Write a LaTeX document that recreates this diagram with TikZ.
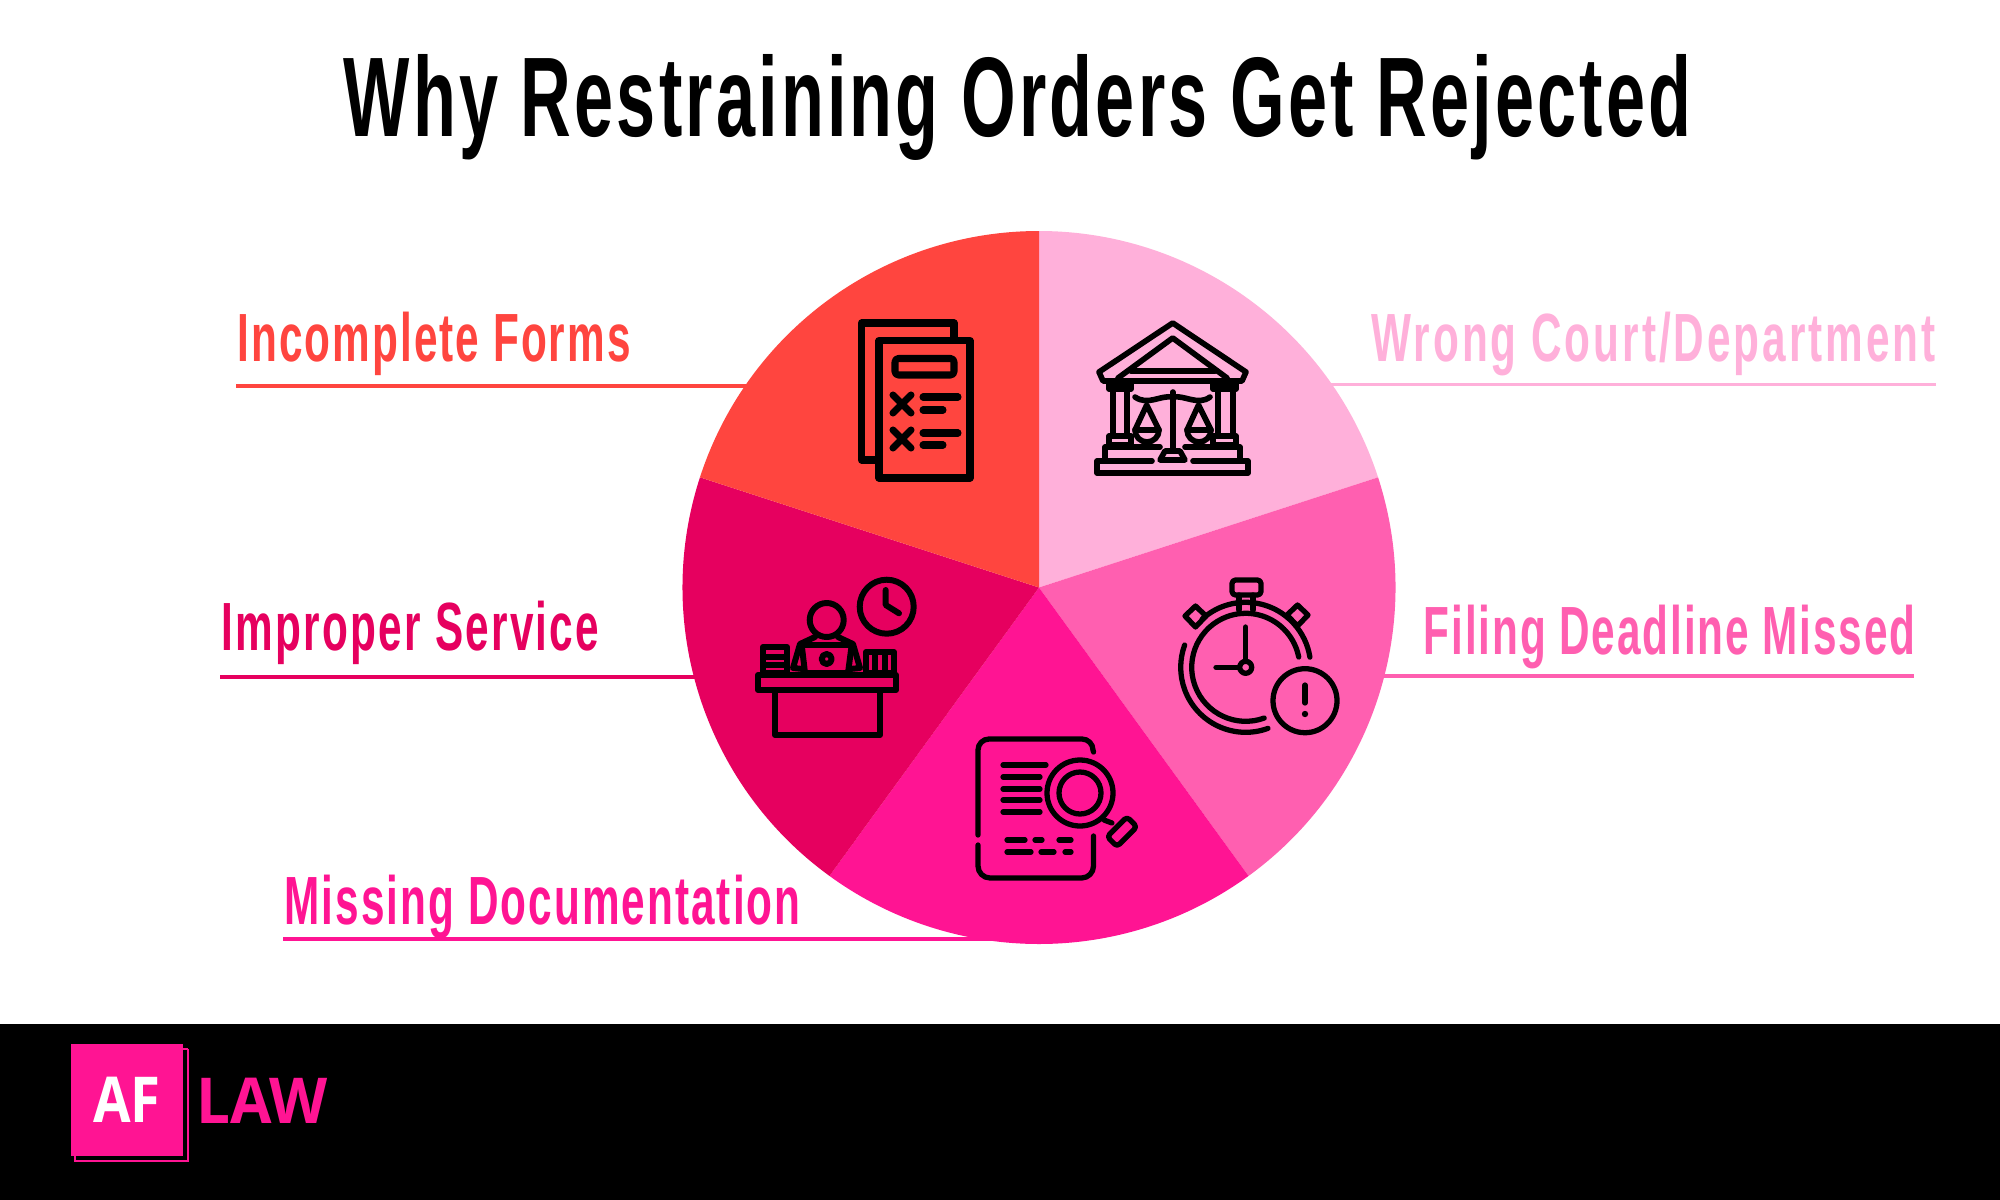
\documentclass[tikz,border=0pt]{standalone}
\usepackage{fontspec}
\usepackage{tikz}
\usetikzlibrary{positioning, arrows.meta}
\newfontfamily\tallfont[FakeStretch=0.62]{Liberation Sans}
\newfontfamily\logofont[FakeStretch=0.86]{Open Sans}
\newfontfamily\lawfont[FakeStretch=0.95]{Open Sans}
\newcommand{\spread}[1]{\addfontfeature{LetterSpace=#1}}
\definecolor{formred}{HTML}{FF453F}
\definecolor{courtpink}{HTML}{FFB0DA}
\definecolor{latepink}{HTML}{FF5FB0}
\definecolor{docpink}{HTML}{FF1493}
\definecolor{servered}{HTML}{E6005F}
\tikzset{%
	tag/.style = {anchor = base west, inner sep = 0pt, text = #1, font = \tallfont\bfseries\fontsize{19.4pt}{22pt}\selectfont},
	rule/.style = {draw = #1, line width = 1pt},
	ink/.style = {draw = black, line width = 1.7pt, line cap = round, line join = round},
	thin ink/.style = {draw = black, line width = 1.5pt, line cap = round, line join = round}
}

\begin{document}
\begin{tikzpicture}[x=0.01cm, y=-0.01cm]
			\useasboundingbox [fill = white] (0,0) rectangle (2000,1200);
			\fill [black] (0,1024) rectangle (2000,1200);
			\node [anchor = base west, inner sep = 0pt, font = \tallfont\bfseries\fontsize{32.2pt}{36pt}\selectfont] (title) at (343,136) {\spread{2.8}Why Restraining Orders Get Rejected};

			\coordinate (center) at (1039,587.5);
			\coordinate (formsL) at (236,386);
			\coordinate (formsR) at (760,386);
			\coordinate (courtL) at (1320,384.5);
			\coordinate (courtR) at (1936,384.5);
			\coordinate (serviceL) at (220,677);
			\coordinate (serviceR) at (710,677);
			\coordinate (lateL) at (1375,676);
			\coordinate (lateR) at (1914,676);
			\coordinate (docsL) at (283,939);
			\coordinate (docsR) at (1010,939);
			\draw [rule = formred] (formsL) -- (formsR);
			\draw [rule = courtpink] (courtL) -- (courtR);
			\draw [rule = servered] (serviceL) -- (serviceR);
			\draw [rule = latepink] (lateL) -- (lateR);
			\draw [rule = docpink] (docsL) -- (docsR);

			\foreach \colr/\from in {courtpink/-90, latepink/-18, docpink/54, servered/126, formred/198}
				\fill [\colr] (center) -- +(\from:356.5) arc [start angle = \from, delta angle = 72, radius = 356.5] -- cycle;

			\node [tag = formred] (forms) at (237,361) {\spread{3}Incomplete Forms};
			\node [tag = courtpink] (court) at (1371,361) {\spread{4.35}Wrong Court/Department};
			\node [tag = servered] (service) at (221,650) {\spread{3.35}Improper Service};
			\node [tag = latepink] (late) at (1423,654) {\spread{2.75}Filing Deadline Missed};
			\node [tag = docpink] (docs) at (284,924) {\spread{3}Missing Documentation};

			% forms
			\begin{scope}[ink, line width = 2pt]
				\draw (875,460) -- (861.5,460) -- (861.5,323) -- (954,323) -- (954,338);
				\draw (879,340.5) rectangle (970,478);
				\draw [rounded corners = 1pt] (895,358.5) rectangle (954,375);
				\foreach \rowy in {404,439} {
					\draw (893,\rowy-9) -- (911,\rowy+9);
					\draw (911,\rowy-9) -- (893,\rowy+9);
				}
				\draw (923,397) -- (958,397) (923,410) -- (943,410);
				\draw (923,433) -- (958,433) (923,445) -- (943,445);
			\end{scope}

			% court
			\begin{scope}[ink, line width = 1.6pt]
				\draw (1172.7,323) -- (1099,372) -- (1103,381) -- (1242,381) -- (1246,372) -- cycle;
				\draw (1118,378) -- (1172.7,338) -- (1227,378);
				\draw (1131,371) -- (1215,371);
				\draw (1109,384) rectangle (1131,389);
				\draw (1213,384) rectangle (1236,389);
				\draw (1113,389) -- (1113,435) (1127,389) -- (1127,435);
				\draw (1218,389) -- (1218,435) (1233,389) -- (1233,435);
				\draw (1109,436) rectangle (1131,445);
				\draw (1213,436) rectangle (1236,445);
				\draw (1105,459) -- (1105,447) -- (1160,447);
				\draw (1185,447) -- (1240,447) -- (1240,459);
				\draw (1152,461) -- (1097,461) -- (1097,473) -- (1248,473) -- (1248,461) -- (1193,461);
				\draw (1172.7,392) -- (1172.7,450);
				\draw (1160,460) -- (1165,451) -- (1180,451) -- (1185,460) -- cycle;
				\draw (1135,397) .. controls (1148,406) and (1160,395) .. (1172.7,397) .. controls (1185,395) and (1198,406) .. (1210,397);
				\draw (1135,430) -- (1146.7,405) -- (1159,430) arc [start angle = 0, end angle = 180, radius = 12];
				\draw (1187,430) -- (1198.5,405) -- (1211,430) arc [start angle = 0, end angle = 180, radius = 12];
				\draw (1135,430) -- (1159,430) (1187,430) -- (1211,430);
			\end{scope}

			% desk
			\begin{scope}[ink]
				\draw (886.7,606.7) circle [radius = 27];
				\draw (885.7,590) -- (885.7,605) -- (899,613.3);
				\draw (826.7,620) circle [radius = 17];
				\draw (801.7,645) -- (851.7,645) -- (848,673) -- (805,673) -- cycle;
				\draw (826.7,659) circle [radius = 5];
				\draw (815,637) -- (800,644) -- (793,668) -- (803,669);
				\draw (838,637) -- (853,644) -- (860,668) -- (850,669);
				\draw (763,647) rectangle (787,673);
				\draw (763,657) -- (787,657) (763,665) -- (787,665);
				\draw (866,652) rectangle (894,673);
				\draw (875,652) -- (875,673) (885,652) -- (885,673);
				\draw (758,675) rectangle (896,690);
				\draw (775,690) -- (775,735) -- (880,735) -- (880,690);
			\end{scope}

			% stopwatch
			\begin{scope}[thin ink]
				\draw [rounded corners = 1pt] (1232,580) rectangle (1261,595);
				\draw (1239,595) -- (1239,610) (1253,595) -- (1253,610);
				\draw (1245.7,667.3) ++(70:54) arc [start angle = 70, end angle = 349, radius = 54];
				\draw (1245.7,667.3) ++(70:65) arc [start angle = 70, end angle = 200, radius = 65];
				\draw (1245.7,667.3) ++(228:65) arc [start angle = 228, end angle = 351, radius = 65];
				\draw (1245.7,667.3) circle [radius = 6];
				\draw (1245.7,661) -- (1245.7,627) (1239,667.3) -- (1216,667.3);
				\draw (1195.5,606) -- (1206,616) -- (1195.5,627) -- (1185,616) -- cycle;
				\draw (1297.5,605) -- (1308,615) -- (1297.5,626) -- (1287,615) -- cycle;
				\draw (1305,700.7) circle [radius = 32];
				\draw (1305,685) -- (1305,703);
				\fill (1305,714) circle [radius = 3.2];
			\end{scope}

			% docs
			\begin{scope}[thin ink]
				\draw (978,835) -- (978,750) arc [start angle = 180, end angle = 270, radius = 11] -- (1082,739) arc [start angle = 270, end angle = 360, radius = 11] -- (1093.5,752);
				\draw (978,845) -- (978,866) arc [start angle = 180, end angle = 90, radius = 12] -- (1081.5,878) arc [start angle = 90, end angle = 0, radius = 12] -- (1093.5,836);
				\draw (1003,765) -- (1046,765);
				\foreach \rowy in {777,789,800,812}
					\draw (1003,\rowy) -- (1040,\rowy);
				\draw (1007,840) -- (1025,840) (1035,840) -- (1042,840) (1059,840) -- (1071,840);
				\draw (1007,852) -- (1031,852) (1041,852) -- (1054,852) (1065,852) -- (1071,852);
				\draw (1080,793) circle [radius = 33];
				\draw (1080,793) circle [radius = 21];
				\draw (1104,820) -- (1112,823);
				\draw [rotate around = {45:(1122,831.7)}, rounded corners = 1pt] (1108,824.7) rectangle (1136,838.7);
			\end{scope}

			% logo
			\node [fill = docpink, minimum size = 1.12cm, inner sep = 0pt, text = white, font = \logofont\bfseries\fontsize{18pt}{20pt}\selectfont] (af) at (127,1100) {AF};
			\draw [docpink, line width = 0.4pt] (188,1049) -- (188,1161) -- (75,1161) -- (75,1156) (183,1049) -- (188,1049);
			\node [anchor = base west, inner sep = 0pt, text = docpink, font = \lawfont\bfseries\fontsize{18pt}{20pt}\selectfont] (law) at (196,1123) {LAW};
			\end{tikzpicture}
\end{document}
